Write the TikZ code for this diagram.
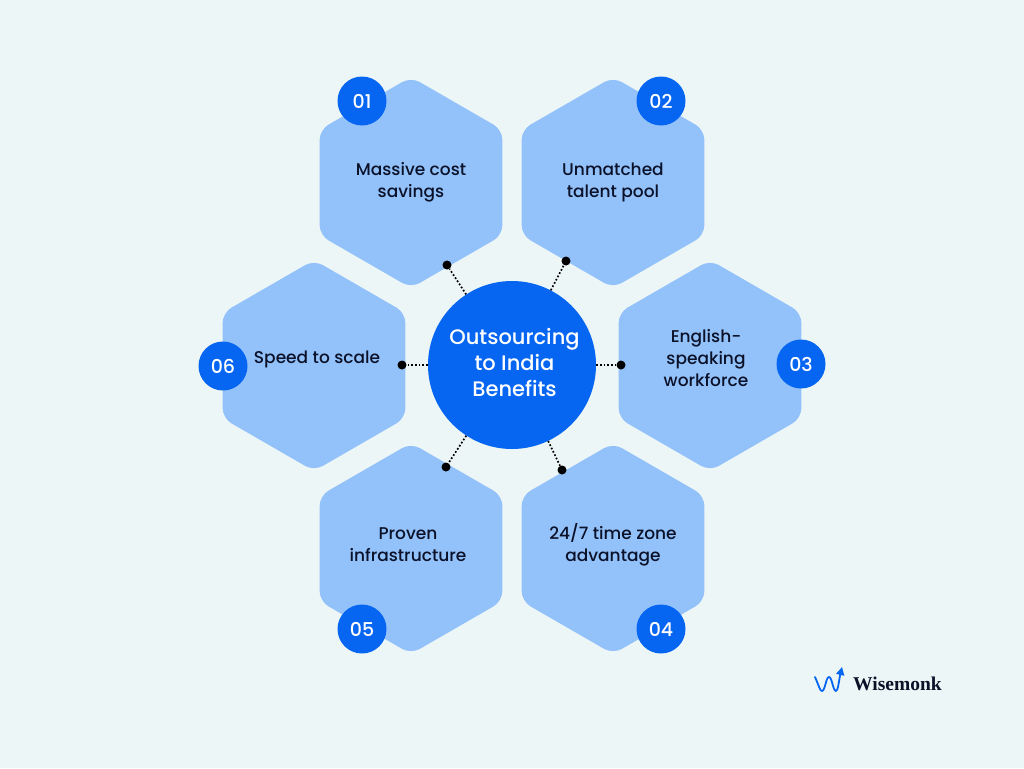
\documentclass[tikz,border=0pt]{standalone}
\usepackage{fontspec}
\setmainfont{Poppins Medium}
\newfontfamily\brandfont{Liberation Serif}
\usetikzlibrary{shapes.geometric,arrows.meta}

\definecolor{paleBg}{HTML}{EDF6F6}
\definecolor{hexBlue}{HTML}{93C2FB}
\definecolor{hubBlue}{HTML}{0666F2}
\definecolor{inkDark}{HTML}{0A1128}

\tikzset{
  hexcell/.style={regular polygon, regular polygon sides=6, shape border rotate=30, fill=hexBlue, rounded corners=10pt, minimum size=211pt, inner sep=0pt, outer sep=0pt},
  hextext/.style={align=center, text=inkDark, font=\fontsize{17}{22}\selectfont, inner sep=0pt},
  badge/.style={circle, fill=hubBlue, text=white, minimum size=49pt, inner sep=0pt, font=\fontsize{19}{22}\selectfont},
  pin/.style={circle, fill=black, minimum size=9pt, inner sep=0pt},
  link/.style={line width=1.7pt, dash pattern=on 1.7pt off 2pt, black}
}

\begin{document}
\begin{tikzpicture}[x=1pt,y=-1pt]
  \fill[paleBg] (0,0) rectangle (1024,768);
  \useasboundingbox (0,0) rectangle (1024,768);

  \node[hexcell] (hexA) at (411,182.5) {};
  \node[hexcell] (hexB) at (613,182.5) {};
  \node[hexcell] (hexC) at (710,365.5) {};
  \node[hexcell] (hexD) at (613,548.5) {};
  \node[hexcell] (hexE) at (411,548.5) {};
  \node[hexcell] (hexF) at (314,365.5) {};

  \node[hextext] (textA) at (411,182) {Massive cost\\savings};
  \node[hextext] (textB) at (613,182) {Unmatched\\talent pool};
  \node[hextext] (textC) at (706,358.5) {English-\\speaking\\workforce};
  \node[hextext] (textD) at (613,545) {24/7 time zone\\advantage};
  \node[hextext] (textE) at (408,545) {Proven\\infrastructure};
  \node[hextext] (textF) at (317,359.5) {Speed to scale};

  \node[badge] (badgeA) at (362,101) {01};
  \node[badge] (badgeB) at (661,101) {02};
  \node[badge] (badgeC) at (801,364) {03};
  \node[badge] (badgeD) at (661,629) {04};
  \node[badge] (badgeE) at (362,629) {05};
  \node[badge] (badgeF) at (223,366) {06};

  \node[circle, fill=hubBlue, minimum size=168pt, inner sep=0pt] (hub) at (512,365) {};
  \node[text=white, inner sep=0pt, align=center, font=\fontsize{21}{26}\selectfont] (hubText) at (514.5,363) {Outsourcing\\to India\\Benefits};

  \node[pin] (pinA) at (447,265) {};
  \node[pin] (pinB) at (566,261) {};
  \node[pin] (pinC) at (621,365) {};
  \node[pin] (pinD) at (562,470) {};
  \node[pin] (pinE) at (446,467) {};
  \node[pin] (pinF) at (402,365) {};

  \draw[link] (hub) -- (pinA);
  \draw[link] (hub) -- (pinB);
  \draw[link] (hub) -- (pinC);
  \draw[link] (hub) -- (pinD);
  \draw[link] (hub) -- (pinE);
  \draw[link] (hub) -- (pinF);

  % logo
  \coordinate (waveStart) at (815,677);
  \coordinate (waveTip) at (842,667);
  \draw[hubBlue, line width=1.8pt, line join=round, line cap=round, -{Triangle[length=8pt,width=8pt]}]
    (waveStart) .. controls (819,686) and (820,691) .. (822,691) .. controls (825,691) and (826,677) .. (829,677) .. controls (832,677) and (833,691) .. (836,691) .. controls (838,691) and (839,680) .. (waveTip);
  \node[anchor=west, inner sep=0pt, text=inkDark, font=\brandfont\bfseries\fontsize{19.5}{22}\selectfont] (brand) at (853,684) {Wisemonk};
\end{tikzpicture}
\end{document}
